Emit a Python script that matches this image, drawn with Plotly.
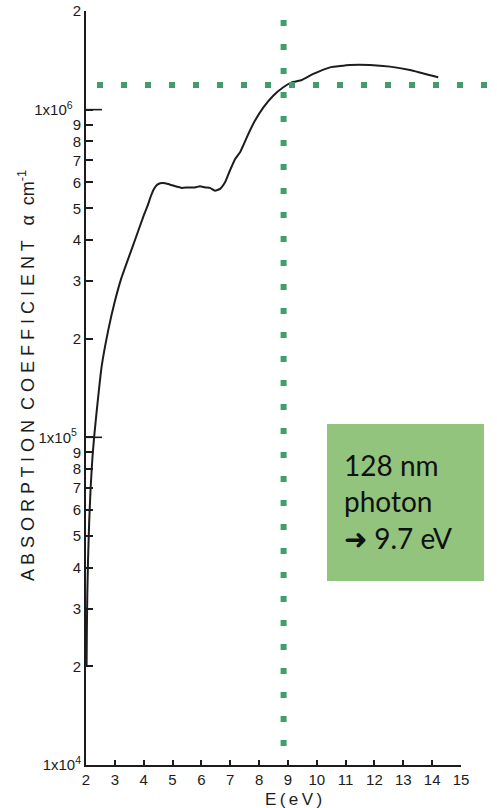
import math
import plotly.graph_objects as go

# ---- data ----
energy_ev = [2.02, 2.03, 2.045, 2.07, 2.11, 2.16, 2.22, 2.29, 2.37, 2.54, 2.77, 3.00, 3.22, 3.50,
             3.72, 4.00, 4.15, 4.25, 4.35, 4.45, 4.57, 4.75, 4.95, 5.15, 5.32, 5.55, 5.78, 5.95,
             6.13, 6.30, 6.47, 6.65, 6.82, 6.99, 7.17, 7.34, 7.45, 7.63, 7.86, 8.15, 8.49, 8.84,
             9.13, 9.48, 9.88, 10.46, 11.15, 11.84, 12.54, 13.23, 14.21]
alpha_cm = [2.0e4, 2.6e4, 3.3e4, 4.2e4, 5.5e4, 7.0e4, 8.6e4, 1.02e5, 1.2e5, 1.64e5, 2.12e5, 2.6e5,
            3.05e5, 3.58e5, 4.05e5, 4.75e5, 5.13e5, 5.45e5, 5.72e5, 5.88e5, 5.96e5, 5.96e5, 5.89e5,
            5.82e5, 5.77e5, 5.79e5, 5.79e5, 5.84e5, 5.79e5, 5.77e5, 5.66e5, 5.73e5, 6.0e5, 6.52e5,
            7.07e5, 7.41e5, 7.77e5, 8.43e5, 9.26e5, 1.016e6, 1.103e6, 1.17e6, 1.211e6, 1.232e6,
            1.285e6, 1.346e6, 1.369e6, 1.369e6, 1.353e6, 1.321e6, 1.255e6]

x_ticks = list(range(2, 16))
NB = "\u00a0"
y_tickvals = [1e4, 2e4, 3e4, 4e4, 5e4, 6e4, 7e4, 8e4, 9e4,
              1e5, 2e5, 3e5, 4e5, 5e5, 6e5, 7e5, 8e5, 9e5, 1e6, 2e6]
y_ticktext = ["1x10<sup>4</sup>", "2", "3", "4", "5", "6", "7", "8", "9",
              "1x10<sup>5</sup>" + NB, "2", "3", "4", "5", "6", "7", "8", "9",
              "1x10<sup>6</sup>" + NB * 2, "2"]
major_ticks = [1e5, 1e6]

cutoff_ev = 8.85
cutoff_alpha = 1.19e6
box_text = "128 nm<br>photon<br>➜ 9.7 eV"
y_title = "ABSORPTION  COEFFICIENT   α  cm<sup>-1</sup>"
x_title = "E(eV)"

# ---- layout constants ----
W, H = 497, 808
ML, MR, MT, MB = 86, 36, 11, 43
PW, PH = W - ML - MR, H - MT - MB
INK = "#1c1c1c"
GREEN = "#3f9f6c"


def px_x(p):
    return (p - ML) / PW


def px_y(p):
    return (H - MB - p) / PH


def spaced(s, sep):
    out = []
    for word in s.split(" "):
        out.append(sep.join(word) if "<" not in word else word)
    return " ".join(out)


fig = go.Figure()
fig.add_trace(go.Scatter(x=energy_ev, y=alpha_cm, mode="lines",
                         line=dict(color=INK, width=2, shape="spline", smoothing=0.4),
                         hoverinfo="skip", showlegend=False))

shapes = []
for v in major_ticks:
    shapes.append(dict(type="line", xref="paper", yref="y", x0=0, x1=16 / PW,
                       y0=v, y1=v, line=dict(color=INK, width=1.6)))
shapes.append(dict(type="line", xref="x", yref="paper", x0=cutoff_ev, x1=cutoff_ev,
                   y0=px_y(20), y1=px_y(747),
                   line=dict(color=GREEN, width=6, dash="6px,18px")))
shapes.append(dict(type="line", xref="paper", yref="y", x0=px_x(97), x1=px_x(488),
                   y0=cutoff_alpha, y1=cutoff_alpha,
                   line=dict(color=GREEN, width=6, dash="6px,18px")))
shapes.append(dict(type="rect", xref="paper", yref="paper", x0=px_x(327), x1=px_x(484),
                   y0=px_y(581), y1=px_y(424), fillcolor="#93c47d", line=dict(width=0),
                   layer="above"))

annotations = [
    dict(xref="paper", yref="paper", x=px_x(342), y=px_y(446), xanchor="left", yanchor="top",
         align="left", showarrow=False, text=box_text,
         font=dict(family="Lato", size=28, color="#111111")),
    dict(xref="paper", yref="paper", x=px_x(26), y=px_y(376), xanchor="center", yanchor="middle",
         textangle=-90, showarrow=False, text=spaced(y_title, " "),
         font=dict(family="Liberation Sans", size=18, color=INK)),
    dict(xref="paper", yref="paper", x=px_x(293), y=px_y(799), xanchor="center", yanchor="middle",
         showarrow=False, text=spaced(x_title, "\u2009"),
         font=dict(family="Liberation Sans", size=17, color=INK)),
]

fig.update_layout(
    width=W, height=H,
    margin=dict(l=ML, r=MR, t=MT, b=MB, pad=0, autoexpand=False),
    paper_bgcolor="white", plot_bgcolor="white",
    shapes=shapes, annotations=annotations,
    xaxis=dict(range=[2, 15], tickvals=x_ticks, ticktext=[str(t) for t in x_ticks],
               ticks="inside", ticklen=5, tickwidth=1.5, tickcolor=INK, automargin=False,
               showline=True, linewidth=2, linecolor=INK, showgrid=False, zeroline=False,
               tickfont=dict(family="Liberation Sans", size=15, color=INK)),
    yaxis=dict(type="log", range=[4, math.log10(2e6)], tickvals=y_tickvals, ticktext=y_ticktext,
               ticks="inside", ticklen=7, tickwidth=1.5, tickcolor=INK, automargin=False,
               showline=True, linewidth=2, linecolor=INK, showgrid=False, zeroline=False,
               tickfont=dict(family="Liberation Sans", size=15, color=INK)),
)

fig.write_html("out.html", config={"displayModeBar": False},
               post_script="document.body.style.margin='0';")
